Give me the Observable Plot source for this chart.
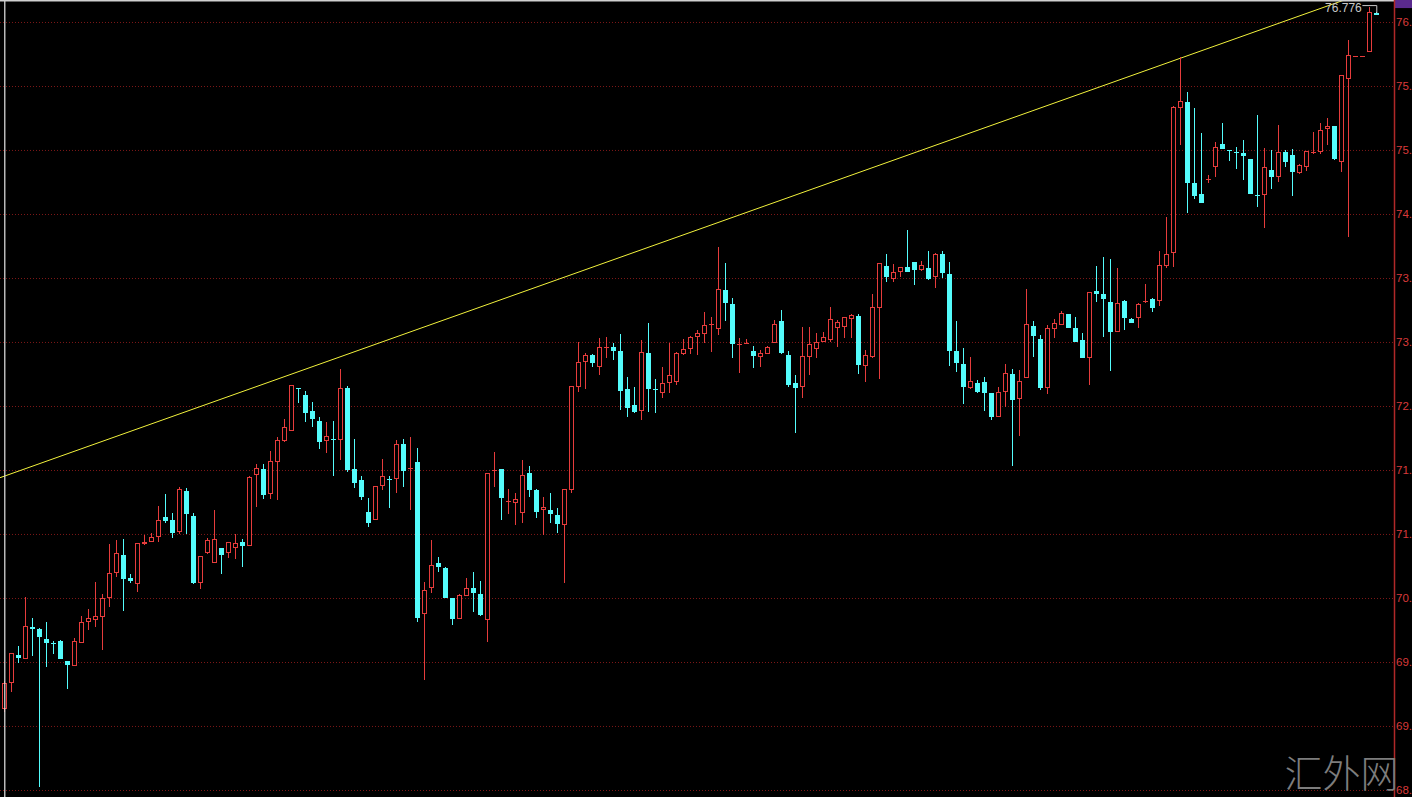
<!DOCTYPE html>
<html><head><meta charset="utf-8">
<script src="https://cdn.jsdelivr.net/npm/d3@7"></script>
<script src="https://cdn.jsdelivr.net/npm/@observablehq/plot@0.6"></script>
<style>html,body{margin:0;padding:0;background:#000;overflow:hidden}</style>
</head><body><div id="chart"></div>
<script>
const opens = [69.45,69.72,70.01,69.97,70.30,70.28,70.17,70.13,70.15,69.94,69.90,70.14,70.35,70.38,70.41,70.60,70.87,71.05,70.81,70.75,
71.17,71.19,71.24,71.44,71.41,71.29,71.71,71.45,70.76,71.07,70.97,71.12,71.07,71.13,71.18,71.15,71.89,71.94,71.69,72.02,
72.24,72.34,72.79,72.71,72.55,72.44,72.24,72.26,72.25,72.79,71.94,71.83,71.50,71.42,71.77,71.84,71.84,72.20,71.95,72.02,
70.44,70.71,70.96,70.91,70.60,70.39,70.63,70.70,70.64,70.38,71.93,71.94,71.61,71.59,71.49,71.90,71.73,71.52,71.52,71.46,
71.37,71.73,72.80,73.06,73.13,73.01,73.21,73.21,73.17,72.78,72.61,72.55,73.15,72.78,72.74,72.84,72.85,73.15,73.20,73.32,
73.35,73.45,73.41,73.81,73.66,73.25,73.26,73.17,73.12,73.15,73.26,73.49,73.13,72.84,72.80,73.12,73.20,73.27,73.29,73.42,
73.43,73.51,73.54,73.02,73.12,73.63,74.06,73.93,74.00,74.05,74.10,74.02,74.04,73.95,74.18,73.97,73.17,73.04,72.79,72.84,
72.85,72.74,72.49,72.75,72.93,72.68,72.90,73.43,73.30,72.79,73.41,73.45,73.56,73.41,73.29,73.10,73.80,73.77,73.68,73.38,
73.69,73.51,73.52,73.69,73.71,73.70,74.06,74.20,75.71,75.77,74.92,74.81,74.96,75.09,75.33,75.27,75.25,75.24,75.17,74.80,
74.80,75.06,74.99,75.25,75.21,75.03,75.09,75.25,75.25,75.49,75.52,75.15,76.01,76.25,76.25,76.29,76.69];
const highs = [69.74,70.03,70.10,70.61,70.39,70.29,70.35,70.15,70.16,69.94,70.18,70.41,70.49,70.77,70.64,71.16,71.20,71.21,70.85,71.17,
71.26,71.28,71.56,71.68,71.49,71.76,71.75,71.49,71.03,71.22,71.52,71.12,71.18,71.27,71.21,71.87,72.00,72.00,72.13,72.28,
72.46,72.81,72.79,72.76,72.64,72.49,72.43,72.44,72.99,72.81,72.26,71.87,71.64,71.76,72.05,71.87,72.25,72.26,72.28,72.16,
70.77,71.20,71.03,70.92,70.60,70.64,70.81,70.87,70.78,71.90,72.12,71.94,71.74,71.69,72.04,71.97,71.74,71.65,71.69,71.54,
71.74,72.81,73.27,73.15,73.14,73.31,73.32,73.26,73.35,72.90,72.80,73.29,73.46,72.88,73.01,73.26,73.16,73.30,73.33,73.39,
73.58,73.53,74.26,74.09,73.73,73.31,73.30,73.22,73.18,73.22,73.50,73.60,73.17,72.92,73.42,73.42,73.36,73.37,73.63,73.50,
73.53,73.56,73.56,73.18,73.77,74.09,74.18,74.08,74.05,74.43,74.10,74.11,74.21,74.19,74.21,74.10,73.49,73.20,73.11,72.87,
72.90,72.74,72.80,73.04,72.99,72.98,73.82,73.49,73.34,73.44,73.51,73.59,73.56,73.53,73.36,73.78,74.06,74.15,74.13,74.04,
73.70,73.52,73.67,73.87,73.73,74.21,74.57,75.73,76.24,75.87,75.70,75.44,75.01,75.35,75.55,75.27,75.30,75.37,75.17,75.63,
75.29,75.27,75.53,75.27,75.28,75.12,75.25,75.45,75.55,75.60,75.52,76.05,76.41,76.25,76.25,76.76,76.70];
const lows = [69.41,69.62,69.92,69.96,70.00,68.63,69.88,70.02,69.96,69.65,69.90,70.13,70.27,70.30,70.06,70.51,70.82,70.46,70.76,70.66,
71.15,71.19,71.18,71.38,71.23,71.27,71.27,70.75,70.69,71.06,70.96,70.85,71.02,71.01,70.92,71.14,71.55,71.63,71.63,71.62,
72.23,72.34,72.63,72.43,72.38,72.15,72.11,71.87,72.04,71.91,71.75,71.62,71.34,71.42,71.73,71.54,71.69,71.76,71.52,70.35,
69.75,70.65,70.87,70.60,70.32,70.38,70.62,70.45,70.41,70.14,71.76,71.41,71.48,71.36,71.38,71.65,71.43,71.26,71.38,71.28,
70.76,71.69,72.75,72.78,73.01,72.92,73.10,73.08,72.56,72.49,72.53,72.45,72.54,72.53,72.68,72.74,72.82,73.13,73.14,73.13,
73.26,73.16,73.34,73.49,73.10,72.94,73.25,73.00,73.01,73.14,73.26,73.14,72.80,72.32,72.68,72.92,73.10,73.27,73.27,73.21,
73.31,73.31,72.93,72.85,73.10,72.88,73.89,73.89,73.94,74.00,73.86,74.01,73.91,73.83,73.93,73.02,72.95,72.62,72.78,72.74,
72.55,72.45,72.49,72.59,71.97,72.29,72.89,73.11,72.77,72.72,73.31,73.44,73.41,73.27,73.10,72.82,73.68,73.32,72.96,73.38,
73.39,73.46,73.41,73.67,73.58,73.64,74.04,74.05,75.32,74.61,74.76,74.71,74.92,74.99,75.28,75.15,75.07,74.95,74.81,74.67,
74.45,74.86,74.93,75.09,74.79,75.02,75.05,75.23,75.23,75.32,75.16,75.04,74.36,76.25,76.25,76.29,76.67];
const closes = [69.71,70.02,69.97,70.30,70.28,70.19,70.13,70.12,69.96,69.90,70.15,70.34,70.39,70.41,70.59,70.86,71.06,70.80,70.78,71.17,
71.18,71.23,71.41,71.40,71.28,71.73,71.48,70.76,71.03,71.20,71.21,71.05,71.18,71.17,71.14,71.86,71.95,71.67,72.02,72.24,
72.38,72.81,72.78,72.53,72.46,72.23,72.28,72.25,72.78,71.93,71.80,71.65,71.38,71.76,71.87,71.83,72.20,71.92,71.95,70.39,
70.68,70.94,70.92,70.60,70.38,70.63,70.70,70.65,70.42,71.90,71.93,71.64,71.61,71.63,71.88,71.73,71.50,71.54,71.48,71.37,
71.73,72.80,73.05,73.13,73.05,73.21,73.21,73.17,72.76,72.58,72.54,73.16,72.78,72.77,72.83,72.92,73.15,73.19,73.31,73.35,
73.44,73.45,73.81,73.67,73.25,73.25,73.26,73.12,73.15,73.21,73.45,73.15,72.82,72.79,73.12,73.24,73.26,73.31,73.50,73.47,
73.52,73.54,73.03,73.13,73.63,74.08,73.94,73.99,74.04,74.00,74.02,74.06,73.92,74.18,73.99,73.17,73.05,72.80,72.86,72.75,
72.74,72.49,72.74,72.94,72.66,72.85,73.45,73.33,72.79,73.41,73.46,73.56,73.41,73.27,73.10,73.78,73.77,73.71,73.37,73.67,
73.52,73.46,73.66,73.69,73.62,74.06,74.18,75.71,75.77,74.92,74.79,74.71,74.96,75.29,75.28,75.26,75.24,75.20,74.81,74.79,
75.08,74.99,75.24,75.14,75.04,75.10,75.25,75.25,75.47,75.51,75.17,76.04,76.25,76.25,76.25,76.70,76.67];

const tickValues = [68.6,69.267,69.933,70.6,71.267,71.933,72.6,73.267,73.933,74.6,75.267,75.933,76.6];
const tickLabels = ["68.","69.","69.","70.","71.","71.","72.","73.","73.","74.","75.","75.","76."];
const trendIdx = [-1, 192];
const trendVal = [71.85, 76.851];
const highLabel = "76.776";
const highValue = 76.776;
const lastPrice = 76.79;
const watermark = "汇外网";

const candles = opens.map((o, i) => ({i, o, h: highs[i], l: lows[i], c: closes[i]}));
const up = candles.filter(d => d.c > d.o);
const flat = candles.filter(d => d.c === d.o);
const down = candles.filter(d => d.c < d.o);
const redSide = candles.filter(d => d.c >= d.o);
const trend = trendIdx.map((x, k) => ({x, y: trendVal[k]}));
const labelMap = new Map(tickValues.map((v, k) => [v, tickLabels[k]]));
const hiIdx = candles.length - 1;
const leader = [{x: hiIdx - 2, y: highValue}, {x: hiIdx, y: highValue}, {x: hiIdx, y: highs[hiIdx]}];

const red = "#e63c3c", cyan = "#54fcfc";
const xDomain = [-0.614, 198.53];
const yDomain = [68.527, 76.829];

const chart = Plot.plot({
  width: 1412, height: 797,
  marginLeft: 0, marginRight: 18, marginTop: 0, marginBottom: 0,
  style: {background: "#000", fontFamily: "Liberation Sans, Arial, sans-serif", fontSize: "12px"},
  x: {type: "linear", domain: xDomain, axis: null},
  y: {type: "linear", domain: yDomain, axis: null},
  marks: [
    Plot.ruleY(tickValues, {stroke: "#7e1818", strokeDasharray: "1,2", strokeWidth: 1}),
    Plot.line(trend, {x: "x", y: "y", stroke: "#f2f23c", strokeWidth: 1, clip: true}),
    Plot.ruleX(redSide, {x: "i", y1: "l", y2: "h", stroke: red, shapeRendering: "crispEdges"}),
    Plot.ruleX(down, {x: "i", y1: "l", y2: "h", stroke: cyan, shapeRendering: "crispEdges"}),
    Plot.rect(up, {x1: d => d.i - 0.3, x2: d => d.i + 0.3, y1: "o", y2: "c", fill: "#000", stroke: red, strokeWidth: 1, shapeRendering: "crispEdges"}),
    Plot.ruleY(flat, {x1: d => d.i - 0.34, x2: d => d.i + 0.34, y: "o", stroke: red, shapeRendering: "crispEdges"}),
    Plot.rect(down, {x1: d => d.i - 0.36, x2: d => d.i + 0.36, y1: "o", y2: "c", fill: cyan, shapeRendering: "crispEdges"}),
    Plot.ruleX([0], {stroke: "#e6e6e6", strokeWidth: 1.2}),
    Plot.ruleY([yDomain[1]], {stroke: "#d0d0d0", strokeWidth: 2}),
    Plot.line(leader, {x: "x", y: "y", stroke: "#c8c8c8", strokeWidth: 1}),
    Plot.text([highLabel], {x: hiIdx, y: highValue, text: d => d, textAnchor: "end", dx: -15, dy: 3, fill: "#c8c8c8", fontSize: 12}),
    Plot.rect([lastPrice], {x1: xDomain[1], x2: xDomain[1] + 3, y1: d => d + 0.045, y2: d => d - 0.045, fill: "#5a2a8e"}),
    Plot.frame({anchor: "right", stroke: "#b02828", strokeWidth: 1.5}),
    Plot.axisY(tickValues, {anchor: "right", tickFormat: d => labelMap.get(d), tickSize: 0, tickPadding: 1.5, color: "#d83a3a", fontSize: 11.5}),
    Plot.text([watermark], {frameAnchor: "bottom-right", text: d => d, textAnchor: "end", lineAnchor: "bottom", dx: 4, dy: -11, fontSize: 38, fill: "#7d7d7d", fontFamily: "Noto Sans CJK SC", fontWeight: 300})
  ]
});
document.getElementById("chart").appendChild(chart);
</script>
</body></html>
